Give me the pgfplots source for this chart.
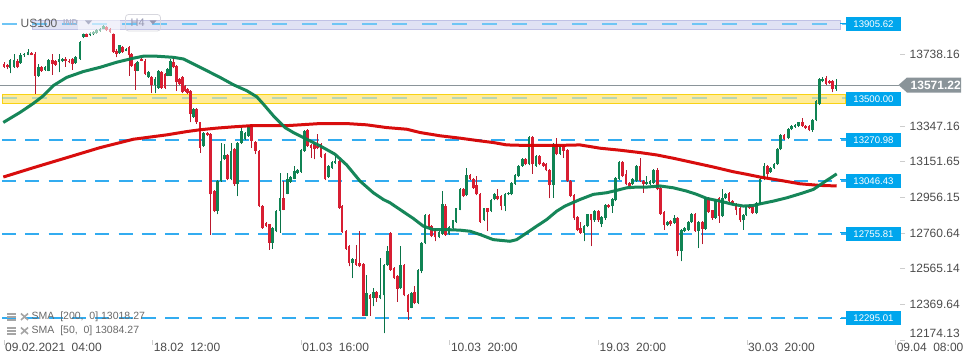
\documentclass[border=0pt]{standalone}
\usepackage{pgfplots}
\pgfplotsset{compat=1.18}
\usepackage{pgfplotstable}
\usepackage{fontspec}
\setmainfont{Liberation Sans}
\definecolor{bullc}{RGB}{16,132,84}
\definecolor{bearc}{RGB}{216,30,50}
\definecolor{bullw}{RGB}{10,115,72}
\definecolor{bearw}{RGB}{185,25,45}
\definecolor{smaA}{RGB}{10,128,80}
\definecolor{smaB}{RGB}{214,0,0}
\definecolor{lvlblue}{RGB}{0,166,237}
\definecolor{dashblue}{RGB}{50,172,240}
\definecolor{yelfill}{RGB}{255,236,153}
\definecolor{yelborder}{RGB}{248,210,20}
\definecolor{lavfill}{RGB}{224,226,244}
\definecolor{lavborder}{RGB}{192,194,230}
\definecolor{curgrey}{RGB}{138,148,153}
\definecolor{txtgrey}{RGB}{75,75,75}
\definecolor{tickgrey}{RGB}{205,205,205}
\definecolor{leggrey}{RGB}{105,105,105}
\definecolor{usgrey}{RGB}{95,95,95}
\definecolor{indgrey}{RGB}{175,178,200}
\definecolor{boxgrey}{RGB}{215,215,222}
\definecolor{hgrey}{RGB}{150,152,178}
\definecolor{icongrey}{RGB}{165,165,165}

\pgfplotstableread{
x o h l c
4.0 13687 13696 13665 13672
7.3 13681 13687 13657 13668
10.0 13665 13714 13635 13709
14.0 13668 13742 13665 13709
17.3 13705 13712 13663 13668
20.7 13690 13745 13687 13733
24.0 13733 13749 13727 13742
28.0 13738 13769 13734 13751
31.3 13747 13753 13733 13738
35.0 13742 13751 13522 13623
38.3 13623 13687 13617 13672
41.7 13668 13674 13645 13650
45.0 13654 13678 13650 13672
48.3 13650 13714 13646 13709
52.3 13709 13742 13628 13687
55.7 13701 13709 13678 13683
59.0 13696 13742 13641 13714
62.3 13701 13720 13696 13714
65.7 13714 13723 13672 13705
69.0 13705 13711 13690 13696
72.3 13714 13720 13654 13687
75.7 13690 13731 13687 13723
80.0 13714 13811 13709 13806
83.3 13833 13857 13828 13852
86.7 13852 13857 13833 13837
90.0 13843 13861 13839 13855
93.3 13848 13866 13844 13861
96.7 13855 13876 13852 13870
100.0 13866 13885 13863 13879
103.3 13879 13898 13876 13892
106.7 13888 13894 13866 13870
110.0 13879 13885 13857 13861
113.3 13852 13855 13747 13751
116.7 13760 13766 13723 13742
119.3 13745 13793 13742 13788
122.7 13778 13784 13747 13751
126.0 13760 13775 13756 13769
129.0 13778 13784 13623 13733
131.7 13742 13747 13672 13678
135.0 13687 13692 13546 13650
137.7 13650 13705 13646 13696
141.7 13714 13720 13701 13705
145.0 13705 13711 13626 13632
148.3 13613 13650 13610 13641
151.7 13617 13623 13525 13573
155.0 13573 13613 13525 13604
158.3 13555 13656 13551 13650
161.7 13641 13646 13551 13555
165.0 13632 13637 13551 13555
167.8 13623 13665 13619 13659
170.8 13623 13711 13619 13705
173.6 13696 13727 13663 13668
176.5 13678 13683 13540 13586
179.3 13604 13610 13571 13577
182.2 13613 13619 13525 13531
185.0 13568 13573 13535 13540
187.8 13549 13555 13522 13525
190.8 13540 13546 13366 13412
193.7 13397 13445 13393 13439
196.7 13439 13445 13360 13366
200.0 13366 13371 13201 13228
203.3 13238 13316 13232 13311
207.3 13311 13316 13293 13298
210.7 13302 13307 12752 12972
214.3 12990 12996 12875 12880
217.7 12880 13051 12862 13045
221.0 13045 13256 13041 13155
224.3 13164 13247 13161 13188
227.7 13188 13194 13049 13054
231.0 13054 13256 13049 13210
234.3 13219 13225 13018 13027
237.7 13027 13261 12963 13256
241.7 13256 13338 13250 13320
245.0 13274 13316 13269 13311
248.3 13293 13353 13287 13348
251.7 13353 13359 13228 13265
255.5 13261 13267 13192 13210
259.0 13210 13216 12902 12908
262.7 12908 12913 12783 12788
266.0 12816 12821 12792 12798
269.3 12807 12812 12669 12706
272.7 12706 12794 12675 12788
276.0 12770 12886 12765 12880
280.0 12880 13091 12761 12953
283.3 12953 13045 12884 12889
287.3 12975 13091 12972 13054
290.7 13041 13073 13036 13067
294.3 13058 13128 13054 13100
297.3 13091 13111 13085 13106
301.0 13096 13219 13091 13214
304.3 13210 13326 13205 13320
307.7 13324 13329 13232 13238
311.0 13243 13249 13173 13228
314.3 13247 13252 13164 13219
317.7 13238 13302 13219 13225
321.0 13247 13252 13172 13177
325.0 13192 13197 13049 13054
328.3 13069 13133 13063 13128
332.0 13118 13157 13113 13151
335.0 13146 13183 13140 13155
339.3 13155 13161 12893 12898
342.0 12908 12913 12761 12766
346.0 12774 12779 12669 12675
349.0 12688 12693 12578 12596
352.7 12596 12625 12513 12620
356.0 12620 12697 12581 12587
359.3 12596 12770 12572 12578
363.3 12592 12598 12303 12308
366.7 12308 12532 12303 12431
370.0 12422 12427 12308 12400
373.3 12403 12458 12358 12436
376.7 12436 12442 12385 12403
380.0 12403 12623 12398 12422
384.0 12418 12592 12211 12587
387.3 12587 12688 12581 12664
390.7 12761 12766 12554 12559
394.0 12568 12574 12508 12513
397.3 12526 12532 12385 12455
400.7 12458 12688 12453 12583
404.0 12583 12589 12413 12418
408.0 12422 12427 12284 12330
411.3 12352 12436 12347 12431
414.7 12435 12468 12370 12376
418.0 12376 12565 12370 12559
421.7 12554 12711 12541 12706
425.0 12706 12864 12700 12858
429.0 12858 12864 12787 12792
431.7 12798 12803 12737 12743
435.0 12779 12785 12715 12737
439.0 12737 12770 12732 12765
442.3 12755 12990 12750 12917
445.7 12911 12917 12746 12752
449.0 12755 12798 12750 12792
453.0 12788 12834 12783 12829
456.0 12821 12900 12816 12895
460.0 12889 13005 12884 12999
463.3 12999 13005 12957 12963
466.7 12968 13118 12963 13078
470.0 13078 13084 13049 13054
473.3 13054 13060 13003 13008
476.7 13021 13073 12966 12972
480.0 12975 12981 12816 12821
484.0 12834 12900 12825 12895
487.3 12895 12900 12770 12876
491.0 12880 12944 12875 12939
494.3 12944 12977 12939 12972
497.7 12963 12999 12939 12944
501.0 12963 12968 12884 12908
505.0 12908 12977 12880 12972
508.3 12972 12986 12966 12981
511.7 12972 13041 12966 13036
515.0 13030 13084 13025 13078
518.3 13073 13133 13067 13128
522.3 13128 13170 13122 13164
525.7 13164 13170 13131 13137
529.0 13137 13293 13131 13287
532.3 13287 13293 13085 13137
536.0 13128 13188 13122 13183
539.3 13183 13188 13131 13137
543.3 13146 13151 13122 13128
546.0 13137 13142 13098 13104
549.3 13104 13109 12950 13023
553.3 13023 13256 12953 13250
556.7 13250 13280 13186 13192
560.0 13195 13243 13190 13238
563.3 13238 13243 13173 13210
567.3 13214 13219 13040 13045
570.7 13045 13051 12957 12963
574.0 12968 12974 12834 12840
577.3 12847 12853 12770 12779
580.7 12788 12821 12755 12761
584.0 12761 12803 12715 12798
587.3 12798 12867 12792 12862
591.0 12862 12867 12688 12829
594.3 12829 12886 12823 12880
598.3 12880 12886 12823 12829
601.7 12807 12853 12792 12847
605.7 12840 12918 12834 12913
608.3 12913 12918 12896 12902
612.3 12908 12950 12871 12944
615.7 12939 13069 12933 13063
619.0 13054 13157 13049 13151
622.3 13151 13157 13067 13073
626.0 13082 13104 13021 13027
629.3 13036 13041 13012 13018
632.7 13027 13060 13021 13054
636.7 13045 13133 13040 13128
640.0 13128 13173 13040 13045
643.3 13045 13051 12981 13027
646.7 13030 13073 13025 13041
650.0 13030 13051 13025 13045
653.3 13036 13109 13030 13104
657.3 13104 13118 12994 12999
660.7 13005 13010 12860 12865
664.0 12876 12882 12779 12803
667.3 12803 12827 12798 12821
670.7 12825 12830 12801 12807
674.3 12816 12858 12810 12843
677.3 12843 12849 12632 12664
681.7 12664 12785 12605 12779
684.3 12770 12794 12765 12788
688.3 12779 12827 12774 12821
691.7 12821 12871 12816 12865
695.0 12865 12871 12768 12774
698.3 12774 12827 12678 12821
702.3 12821 12827 12700 12785
705.3 12785 12959 12779 12953
708.3 12950 12955 12871 12876
712.3 12884 12889 12834 12840
715.7 12843 12944 12838 12939
719.0 12950 12955 12816 12853
722.3 12853 12999 12847 12953
725.7 12950 12977 12944 12972
729.0 12981 12986 12930 12935
732.7 12935 12941 12915 12920
736.0 12920 12926 12858 12889
740.0 12898 12904 12823 12829
743.3 12829 12864 12779 12858
746.0 12858 12908 12853 12902
749.3 12913 12920 12893 12898
752.7 12902 12908 12865 12871
756.7 12871 12931 12862 12926
760.0 12920 13060 12915 13054
764.0 13054 13146 13049 13128
767.3 13128 13133 13063 13085
770.7 13096 13124 13091 13118
774.0 13118 13146 13113 13140
777.7 13140 13225 13135 13219
780.7 13219 13304 13214 13298
784.0 13298 13304 13269 13274
788.3 13280 13335 13274 13329
791.7 13329 13353 13324 13348
795.0 13342 13359 13337 13353
798.3 13348 13371 13342 13366
802.3 13371 13390 13342 13348
805.7 13348 13353 13329 13335
809.0 13348 13353 13318 13324
812.3 13324 13384 13316 13379
816.0 13379 13491 13373 13485
819.3 13467 13610 13461 13604
822.7 13591 13617 13586 13604
826.0 13610 13623 13571 13577
829.3 13591 13597 13575 13580
832.7 13591 13597 13531 13549
836.0 13549 13604 13540 13571.22
}\candles

\begin{document}
\begin{tikzpicture}
\begin{axis}[
  name=ax, at={(0,0)}, anchor=south west,
  width=900pt, height=340pt, scale only axis,
  xmin=0, xmax=900, ymin=12174.13, ymax=14037,
  clip=false,
  scaled x ticks=false, scaled y ticks=false,
  axis line style={draw=none},
  xtick pos=bottom, ytick pos=right,
  tick align=outside, major tick length=5pt,
  tick style={color=tickgrey, line width=0.8pt},
  xtick={4,152.6,301.2,449.8,598.4,747,895.6},
  xticklabels={09.02.2021\hspace{6.5pt}04:00, 18.02\hspace{6.5pt}12:00, 01.03\hspace{6.5pt}16:00, 10.03\hspace{6.5pt}20:00, 19.03\hspace{6.5pt}20:00, 30.03\hspace{6.5pt}20:00, 09.04\hspace{6.5pt}08:00},
  xticklabel style={anchor=west, inner sep=0pt, xshift=1pt, yshift=-2pt, font=\fontsize{12}{14}\selectfont, text=txtgrey},
  ytick={12369.64,12565.14,12760.64,12956.15,13151.65,13347.16,13738.16},
  yticklabels={12369.64,12565.14,12760.64,12956.15,13151.65,13347.16,13738.16},
  yticklabel style={anchor=west, inner sep=0pt, xshift=4.5pt, font=\fontsize{12}{14}\selectfont, text=txtgrey},
  extra y ticks={12174.13}, extra y tick labels={12174.13},
  extra y tick style={yticklabel style={yshift=7pt}},
  every axis plot/.append style={forget plot},
]
% bands
\fill[lavfill, draw=lavborder, line width=0.8pt] (axis cs:32,13874) rectangle (axis cs:840,13923);
\fill[yelfill, draw=yelborder, line width=0.9pt] (axis cs:2,13472) rectangle (axis cs:845,13517);
% level lines
\addplot[dashblue!70, dash pattern=on 15pt off 15pt, line width=1.5pt] coordinates {(2,13905.62) (846,13905.62)};
\addplot[dashblue, opacity=0.35, dash pattern=on 15pt off 15pt, line width=1.5pt] coordinates {(2,13500) (846,13500)};
\addplot[curgrey, line width=0.9pt] coordinates {(0,13571.22) (899,13571.22)};
\addplot[dashblue, dash pattern=on 14pt off 9.3pt, line width=1.5pt] coordinates {(2,13270.98) (846,13270.98)};
\addplot[dashblue, dash pattern=on 14pt off 9.3pt, line width=1.5pt] coordinates {(2,13046.43) (846,13046.43)};
\addplot[dashblue, dash pattern=on 14pt off 9.3pt, line width=1.5pt] coordinates {(2,12755.81) (846,12755.81)};
\addplot[dashblue, dash pattern=on 14pt off 9.3pt, line width=1.5pt] coordinates {(2,12295.01) (846,12295.01)};
% bullish candles
\addplot[only marks, mark=*, mark size=0pt, mark options={draw=none, fill=none},
  restrict expr to domain={\thisrow{c}-\thisrow{o}}{0:100000},
  error bars/.cd, y dir=plus, y explicit, error mark=none,
  error bar style={line width=0.9pt, color=bullw}]
  table[x=x, y=l, y error plus expr={\thisrow{h}-\thisrow{l}}] {\candles};
\addplot[only marks, mark=*, mark size=0pt, mark options={draw=none, fill=none},
  restrict expr to domain={\thisrow{c}-\thisrow{o}}{0:100000},
  error bars/.cd, y dir=plus, y explicit, error mark=none,
  error bar style={line width=2.9pt, color=bullc}]
  table[x=x, y expr={min(\thisrow{o},\thisrow{c})}, y error plus expr={abs(\thisrow{c}-\thisrow{o})}] {\candles};
% bearish candles
\addplot[only marks, mark=*, mark size=0pt, mark options={draw=none, fill=none},
  restrict expr to domain={\thisrow{c}-\thisrow{o}}{-100000:-0.001},
  error bars/.cd, y dir=plus, y explicit, error mark=none,
  error bar style={line width=0.9pt, color=bearw}]
  table[x=x, y=l, y error plus expr={\thisrow{h}-\thisrow{l}}] {\candles};
\addplot[only marks, mark=*, mark size=0pt, mark options={draw=none, fill=none},
  restrict expr to domain={\thisrow{c}-\thisrow{o}}{-100000:-0.001},
  error bars/.cd, y dir=plus, y explicit, error mark=none,
  error bar style={line width=2.9pt, color=bearc}]
  table[x=x, y expr={min(\thisrow{o},\thisrow{c})}, y error plus expr={abs(\thisrow{c}-\thisrow{o})}] {\candles};
% SMA 200
\addplot[smaB, line width=3pt, line join=round, mark=none, opacity=0.95] coordinates {
(3.3,13067) (33.3,13118) (66.7,13173) (100,13228) (133.3,13274) (166.7,13298) (186.7,13316) (200,13326) (216.7,13335) (233.3,13342) (250,13348) (266.7,13348) (285,13348) (300,13353) (320,13360) (346.7,13360) (366.7,13353) (386.7,13338) (406.7,13329) (420,13311) (440,13293) (460,13280) (480,13265) (493.3,13256) (506.7,13243) (520,13241) (546.7,13241) (565,13241) (580,13243) (600,13225) (620,13214) (640,13201) (656.7,13188) (673.3,13170) (693.3,13146) (713.3,13122) (733.3,13096) (746.7,13082) (760,13067) (780,13049) (800,13030) (820,13021) (836.7,13018.27)};
% SMA 50
\addplot[smaA, line width=3pt, line join=round, mark=none, opacity=0.95] coordinates {
(3.3,13366) (20,13421) (33.3,13470) (43.3,13512) (53.3,13568) (66.7,13613) (83.3,13645) (100,13668) (116.7,13696) (133.3,13718) (143.3,13729) (156.7,13729) (173.3,13723) (183.3,13714) (193.3,13687) (206.7,13650) (220,13613) (233.3,13573) (246.7,13540) (256.7,13507) (263.3,13467) (273.3,13403) (285,13338) (293.3,13311) (306.7,13274) (320,13238) (335,13192) (346.7,13133) (360,13045) (373.3,12981) (383.3,12944) (390,12926) (400,12889) (413.3,12840) (423.3,12798) (433.3,12779) (446.7,12779) (460,12776) (470,12770) (480,12752) (493.3,12724) (510,12715) (516.7,12724) (526.7,12761) (536.7,12798) (546.7,12834) (556.7,12880) (565,12908) (570,12920) (580,12944) (593.3,12972) (606.7,12981) (616.7,12994) (626.7,13008) (636.7,13012) (646.7,13012) (660,13018) (673.3,13008) (686.7,12990) (696.7,12972) (706.7,12950) (720,12935) (733.3,12917) (743.3,12908) (753.3,12911) (760,12920) (773.3,12935) (786.7,12953) (800,12975) (813.3,12999) (823.3,13036) (830,13060) (836.7,13084.27)};
% level labels
\node[fill=lvlblue, text=white, minimum width=55pt, minimum height=13.5pt, inner sep=0pt, font=\fontsize{9.6}{11}\selectfont] at (axis cs:873.5,13905.62) {13905.62};
\node[fill=lvlblue, text=white, minimum width=55pt, minimum height=13.5pt, inner sep=0pt, font=\fontsize{9.6}{11}\selectfont] at (axis cs:873.5,13494) {13500.00};
\node[fill=lvlblue, text=white, minimum width=55pt, minimum height=13.5pt, inner sep=0pt, font=\fontsize{9.6}{11}\selectfont] at (axis cs:873.5,13270.98) {13270.98};
\node[fill=lvlblue, text=white, minimum width=55pt, minimum height=13.5pt, inner sep=0pt, font=\fontsize{9.6}{11}\selectfont] at (axis cs:873.5,13046.43) {13046.43};
\node[fill=lvlblue, text=white, minimum width=55pt, minimum height=13.5pt, inner sep=0pt, font=\fontsize{9.6}{11}\selectfont] at (axis cs:873.5,12755.81) {12755.81};
\node[fill=lvlblue, text=white, minimum width=55pt, minimum height=13.5pt, inner sep=0pt, font=\fontsize{9.6}{11}\selectfont] at (axis cs:873.5,12295.01) {12295.01};
\coordinate (cp) at (axis cs:898.5,13571.22);
\end{axis}
\begin{scope}[x=1pt,y=1pt]
% short connectors to level labels
\foreach \yy in {316.5,201.2,160.2,107.1,21.1}{\draw[lvlblue, line width=1.2pt] (840,\yy) -- (846,\yy);}
% current price label
\fill[curgrey] (cp) -- ++(8.5,7.5) -- ++(54,0) -- ++(0,-15) -- ++(-54,0) -- cycle;
\node[text=white, font=\bfseries\fontsize{12}{14}\selectfont, anchor=west, inner sep=0pt] at ([xshift=12pt]cp) {13571.22};
% fade top-left candles
\fill[white, opacity=0.55] (78,306) rectangle (120,340);
% toolbar
\node[anchor=west, inner sep=0pt, text=usgrey, font=\fontsize{12}{14}\selectfont] at (20.5,317) {US100};
\node[anchor=west, inner sep=0pt, text=indgrey, font=\bfseries\fontsize{8.5}{10}\selectfont] at (63,317) {IND};
\fill[indgrey] (85,319.5) -- (92,319.5) -- (88.5,315.5) -- cycle;
\draw[boxgrey, rounded corners=3pt, line width=0.8pt] (125.5,309) rectangle (160.5,325.5);
\node[anchor=west, inner sep=0pt, text=hgrey, font=\fontsize{11}{13}\selectfont] at (130.5,317) {H4};
\fill[hgrey] (149.5,319.5) -- (156.5,319.5) -- (153,315.5) -- cycle;
% legend
\draw[icongrey, line width=1.3pt] (7,26) -- (16,26) (7,23) -- (16,23) (7,20) -- (16,20);
\draw[icongrey, line width=1.6pt] (21,26.5) -- (28,20) (21,20) -- (28,26.5);
\node[anchor=west, inner sep=0pt, text=leggrey, font=\fontsize{10.5}{12}\selectfont] at (31.5,23) {SMA\ \ [200,\ \ 0]\ 13018.27};
\draw[icongrey, line width=1.3pt] (7,12) -- (16,12) (7,9) -- (16,9) (7,6) -- (16,6);
\draw[icongrey, line width=1.6pt] (21,12.5) -- (28,6) (21,6) -- (28,12.5);
\node[anchor=west, inner sep=0pt, text=leggrey, font=\fontsize{10.5}{12}\selectfont] at (31.5,9) {SMA\ \ [50,\ \ 0]\ 13084.27};
\pgfresetboundingbox
\path (0,-24) rectangle (970,340);
\end{scope}
\end{tikzpicture}
\end{document}
